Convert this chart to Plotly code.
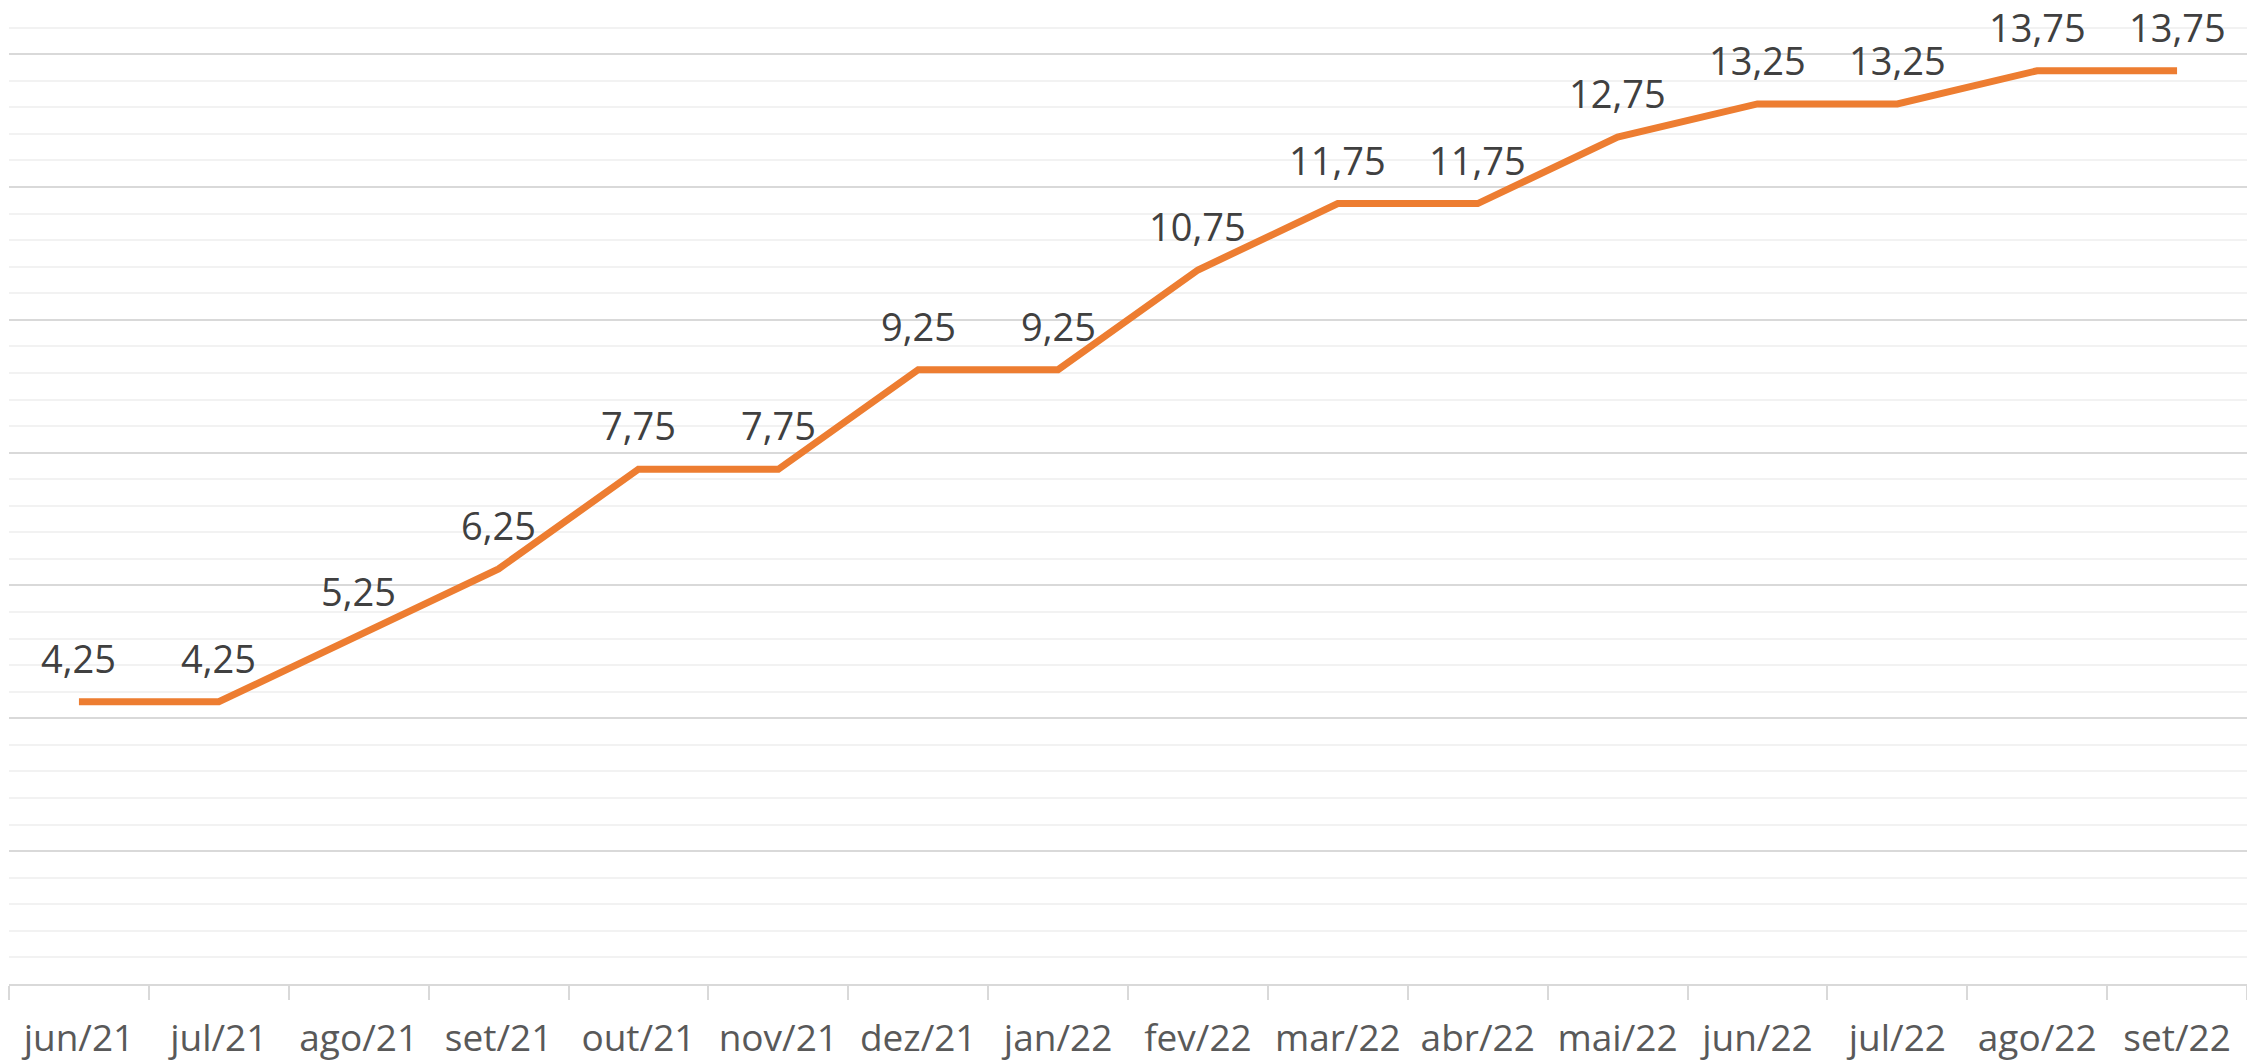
import plotly.graph_objects as go

months = ["jun/21", "jul/21", "ago/21", "set/21", "out/21", "nov/21", "dez/21", "jan/22",
          "fev/22", "mar/22", "abr/22", "mai/22", "jun/22", "jul/22", "ago/22", "set/22"]
selic = [4.25, 4.25, 5.25, 6.25, 7.75, 7.75, 9.25, 9.25,
         10.75, 11.75, 11.75, 12.75, 13.25, 13.25, 13.75, 13.75]
labels = [f"{v:.2f}".replace(".", ",") for v in selic]

fig = go.Figure()
fig.add_trace(go.Scatter(
    x=months, y=selic, mode="lines",
    line=dict(color="#ED7D31", width=7),
    hoverinfo="skip", showlegend=False,
))

for m, v, t in zip(months, selic, labels):
    fig.add_annotation(x=m, y=v, text=t, showarrow=False, yshift=44,
                       xanchor="center", yanchor="middle",
                       font=dict(family="Open Sans", size=38, color="#404040"))

fig.update_layout(
    width=2247, height=1061,
    margin=dict(l=9, r=0, t=1, b=77),
    plot_bgcolor="white", paper_bgcolor="white",
    font=dict(family="Open Sans", color="#595959"),
)
fig.update_xaxes(
    type="category", range=[-0.5, 15.5],
    showline=True, linecolor="#d9d9d9", linewidth=2,
    ticks="outside", tickson="boundaries", ticklen=14, tickwidth=2, tickcolor="#d9d9d9",
    ticklabelstandoff=21,
    showgrid=False, tickfont=dict(family="Open Sans", size=37, color="#595959"),
    fixedrange=True,
)
fig.update_yaxes(
    range=[0, 14.8], dtick=2, tick0=0, showticklabels=False,
    showgrid=True, gridcolor="#d9d9d9", gridwidth=2, zeroline=False,
    minor=dict(dtick=0.4, tick0=0, showgrid=True, gridcolor="#f2f2f2", gridwidth=2),
    fixedrange=True,
)

fig.write_html("out.html", config={"displayModeBar": False},
               post_script="document.body.style.margin='0';document.body.style.overflow='hidden';")
